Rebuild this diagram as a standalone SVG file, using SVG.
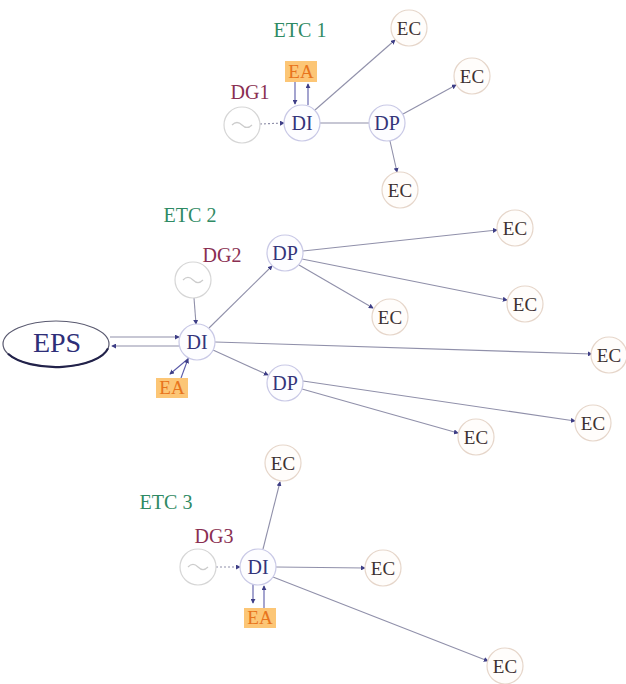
<svg xmlns="http://www.w3.org/2000/svg" width="626" height="684" viewBox="0 0 626 684">
<style>
text{font-family:"Liberation Serif","Times New Roman",serif;text-anchor:middle}
.bg{fill:#ffffff}
.di{fill:#fdfdff;stroke:#c9c9e6;stroke-width:1.2}
.ec{fill:#fffdfb;stroke:#e6d6ca;stroke-width:1.2}
.dg{fill:#ffffff;stroke:#d6d6d6;stroke-width:1.2}
.til{fill:none;stroke:#cccccc;stroke-width:1.2}
.tdi{fill:#34347a;font-size:20px}
.tec{fill:#3e3232;font-size:19px}
.etc{fill:#2f8a64;font-size:20px}
.tdg{fill:#8a2f52;font-size:20px}
.ea{fill:#fcc676}
.tea{fill:#e8741c;font-size:19px}
.e{fill:none;stroke:#9090aa;stroke-width:1.1}
.ed{fill:none;stroke:#9090aa;stroke-width:1.1;stroke-dasharray:2 2}
.eb{fill:none;stroke:#5a5aa8;stroke-width:1.1}
</style>
<defs>
<marker id="ah" viewBox="0 0 6 6" refX="5" refY="3" markerWidth="5" markerHeight="5" orient="auto" markerUnits="userSpaceOnUse">
<path d="M0,0 L6,3 L0,6 z" fill="#3e3e86"/>
</marker>
</defs>
<rect class="bg" x="0" y="0" width="626" height="684"/>

<g id="connectors">
<line class="ed" x1="260" y1="124" x2="284" y2="123" marker-end="url(#ah)"/>
<line class="eb" x1="295" y1="82" x2="295" y2="104" marker-end="url(#ah)"/>
<line class="eb" x1="308" y1="105" x2="308" y2="84" marker-end="url(#ah)"/>
<line class="e" x1="315" y1="110" x2="395" y2="40" marker-end="url(#ah)"/>
<line class="e" x1="320" y1="123" x2="369" y2="123"/>
<line class="e" x1="403" y1="114" x2="456" y2="85" marker-end="url(#ah)"/>
<line class="e" x1="390" y1="141" x2="397" y2="172" marker-end="url(#ah)"/>
<line class="e" x1="110" y1="337" x2="179" y2="337" marker-end="url(#ah)"/>
<line class="e" x1="180" y1="346" x2="112" y2="346" marker-end="url(#ah)"/>
<line class="e" x1="194" y1="298" x2="196" y2="324" marker-end="url(#ah)"/>
<line class="eb" x1="189" y1="358" x2="170" y2="374" marker-end="url(#ah)"/>
<line class="eb" x1="181" y1="378" x2="188" y2="359" marker-end="url(#ah)"/>
<line class="e" x1="209" y1="328" x2="272" y2="266" marker-end="url(#ah)"/>
<line class="e" x1="213" y1="350" x2="268" y2="375" marker-end="url(#ah)"/>
<line class="e" x1="215" y1="342" x2="592" y2="354" marker-end="url(#ah)"/>
<line class="e" x1="303" y1="251" x2="497" y2="230" marker-end="url(#ah)"/>
<line class="e" x1="302" y1="259" x2="507" y2="300" marker-end="url(#ah)"/>
<line class="e" x1="299" y1="265" x2="373" y2="308" marker-end="url(#ah)"/>
<line class="e" x1="303" y1="381" x2="575" y2="421" marker-end="url(#ah)"/>
<line class="e" x1="302" y1="389" x2="458" y2="433" marker-end="url(#ah)"/>
<line class="ed" x1="216" y1="567" x2="240" y2="567" marker-end="url(#ah)"/>
<line class="eb" x1="253" y1="584" x2="253" y2="603" marker-end="url(#ah)"/>
<line class="eb" x1="264" y1="608" x2="264" y2="586" marker-end="url(#ah)"/>
<line class="e" x1="263" y1="549" x2="280" y2="482" marker-end="url(#ah)"/>
<line class="e" x1="276" y1="567" x2="365" y2="568" marker-end="url(#ah)"/>
<line class="e" x1="273" y1="577" x2="488" y2="661" marker-end="url(#ah)"/>
</g>

<g id="etc1-label"><text class="etc" x="300" y="37">ETC 1</text></g>
<g id="dg1-label"><text class="tdg" x="250" y="99">DG1</text></g>
<g id="dg1"><circle class="dg" cx="242" cy="125" r="18"/><path class="til" d="M232,125 q5,-5 10,0 t10,0"/></g>
<g id="ea1"><rect class="ea" x="285" y="61" width="32" height="21"/><text class="tea" x="301" y="78">EA</text></g>
<g id="di1"><circle class="di" cx="302" cy="123" r="18"/><text class="tdi" x="302" y="130">DI</text></g>
<g id="dp1"><circle class="di" cx="387" cy="123" r="18"/><text class="tdi" x="387" y="130">DP</text></g>
<g id="ec1a"><circle class="ec" cx="409" cy="28" r="18"/><text class="tec" x="409" y="35">EC</text></g>
<g id="ec1b"><circle class="ec" cx="472" cy="76" r="18"/><text class="tec" x="472" y="83">EC</text></g>
<g id="ec1c"><circle class="ec" cx="400" cy="190" r="18"/><text class="tec" x="400" y="197">EC</text></g>

<g id="etc2-label"><text class="etc" x="190" y="222">ETC 2</text></g>
<g id="dg2-label"><text class="tdg" x="222" y="262">DG2</text></g>
<g id="dg2"><circle class="dg" cx="193" cy="280" r="18"/><path class="til" d="M183,280 q5,-5 10,0 t10,0"/></g>
<g id="eps"><ellipse cx="56" cy="344" rx="53" ry="23" fill="#ffffff" stroke="#5a5a70" stroke-width="1.2"/><path d="M8,353.8 A53,23 0 0 0 108,348.4" fill="none" stroke="#22224a" stroke-width="2.2"/><text x="57" y="352" fill="#2e2e78" style="font-size:28px">EPS</text></g>
<g id="di2"><circle class="di" cx="197" cy="342" r="18"/><text class="tdi" x="197" y="349">DI</text></g>
<g id="ea2"><rect class="ea" x="156" y="378" width="32" height="20"/><text class="tea" x="172" y="394">EA</text></g>
<g id="dp2a"><circle class="di" cx="285" cy="253" r="18"/><text class="tdi" x="285" y="260">DP</text></g>
<g id="dp2b"><circle class="di" cx="285" cy="383" r="18"/><text class="tdi" x="285" y="390">DP</text></g>
<g id="ec2a"><circle class="ec" cx="515" cy="228" r="18"/><text class="tec" x="515" y="235">EC</text></g>
<g id="ec2b"><circle class="ec" cx="525" cy="304" r="18"/><text class="tec" x="525" y="311">EC</text></g>
<g id="ec2c"><circle class="ec" cx="390" cy="317" r="18"/><text class="tec" x="390" y="324">EC</text></g>
<g id="ec2d"><circle class="ec" cx="609" cy="355" r="18"/><text class="tec" x="609" y="362">EC</text></g>
<g id="ec2e"><circle class="ec" cx="593" cy="423" r="18"/><text class="tec" x="593" y="430">EC</text></g>
<g id="ec2f"><circle class="ec" cx="476" cy="437" r="18"/><text class="tec" x="476" y="444">EC</text></g>

<g id="etc3-label"><text class="etc" x="166" y="509">ETC 3</text></g>
<g id="dg3-label"><text class="tdg" x="214" y="543">DG3</text></g>
<g id="dg3"><circle class="dg" cx="198" cy="567" r="18"/><path class="til" d="M188,567 q5,-5 10,0 t10,0"/></g>
<g id="di3"><circle class="di" cx="258" cy="567" r="18"/><text class="tdi" x="258" y="574">DI</text></g>
<g id="ea3"><rect class="ea" x="244" y="608" width="32" height="20"/><text class="tea" x="260" y="624">EA</text></g>
<g id="ec3a"><circle class="ec" cx="283" cy="463" r="18"/><text class="tec" x="283" y="470">EC</text></g>
<g id="ec3b"><circle class="ec" cx="383" cy="568" r="18"/><text class="tec" x="383" y="575">EC</text></g>
<g id="ec3c"><circle class="ec" cx="505" cy="666" r="18"/><text class="tec" x="505" y="673">EC</text></g>
</svg>
